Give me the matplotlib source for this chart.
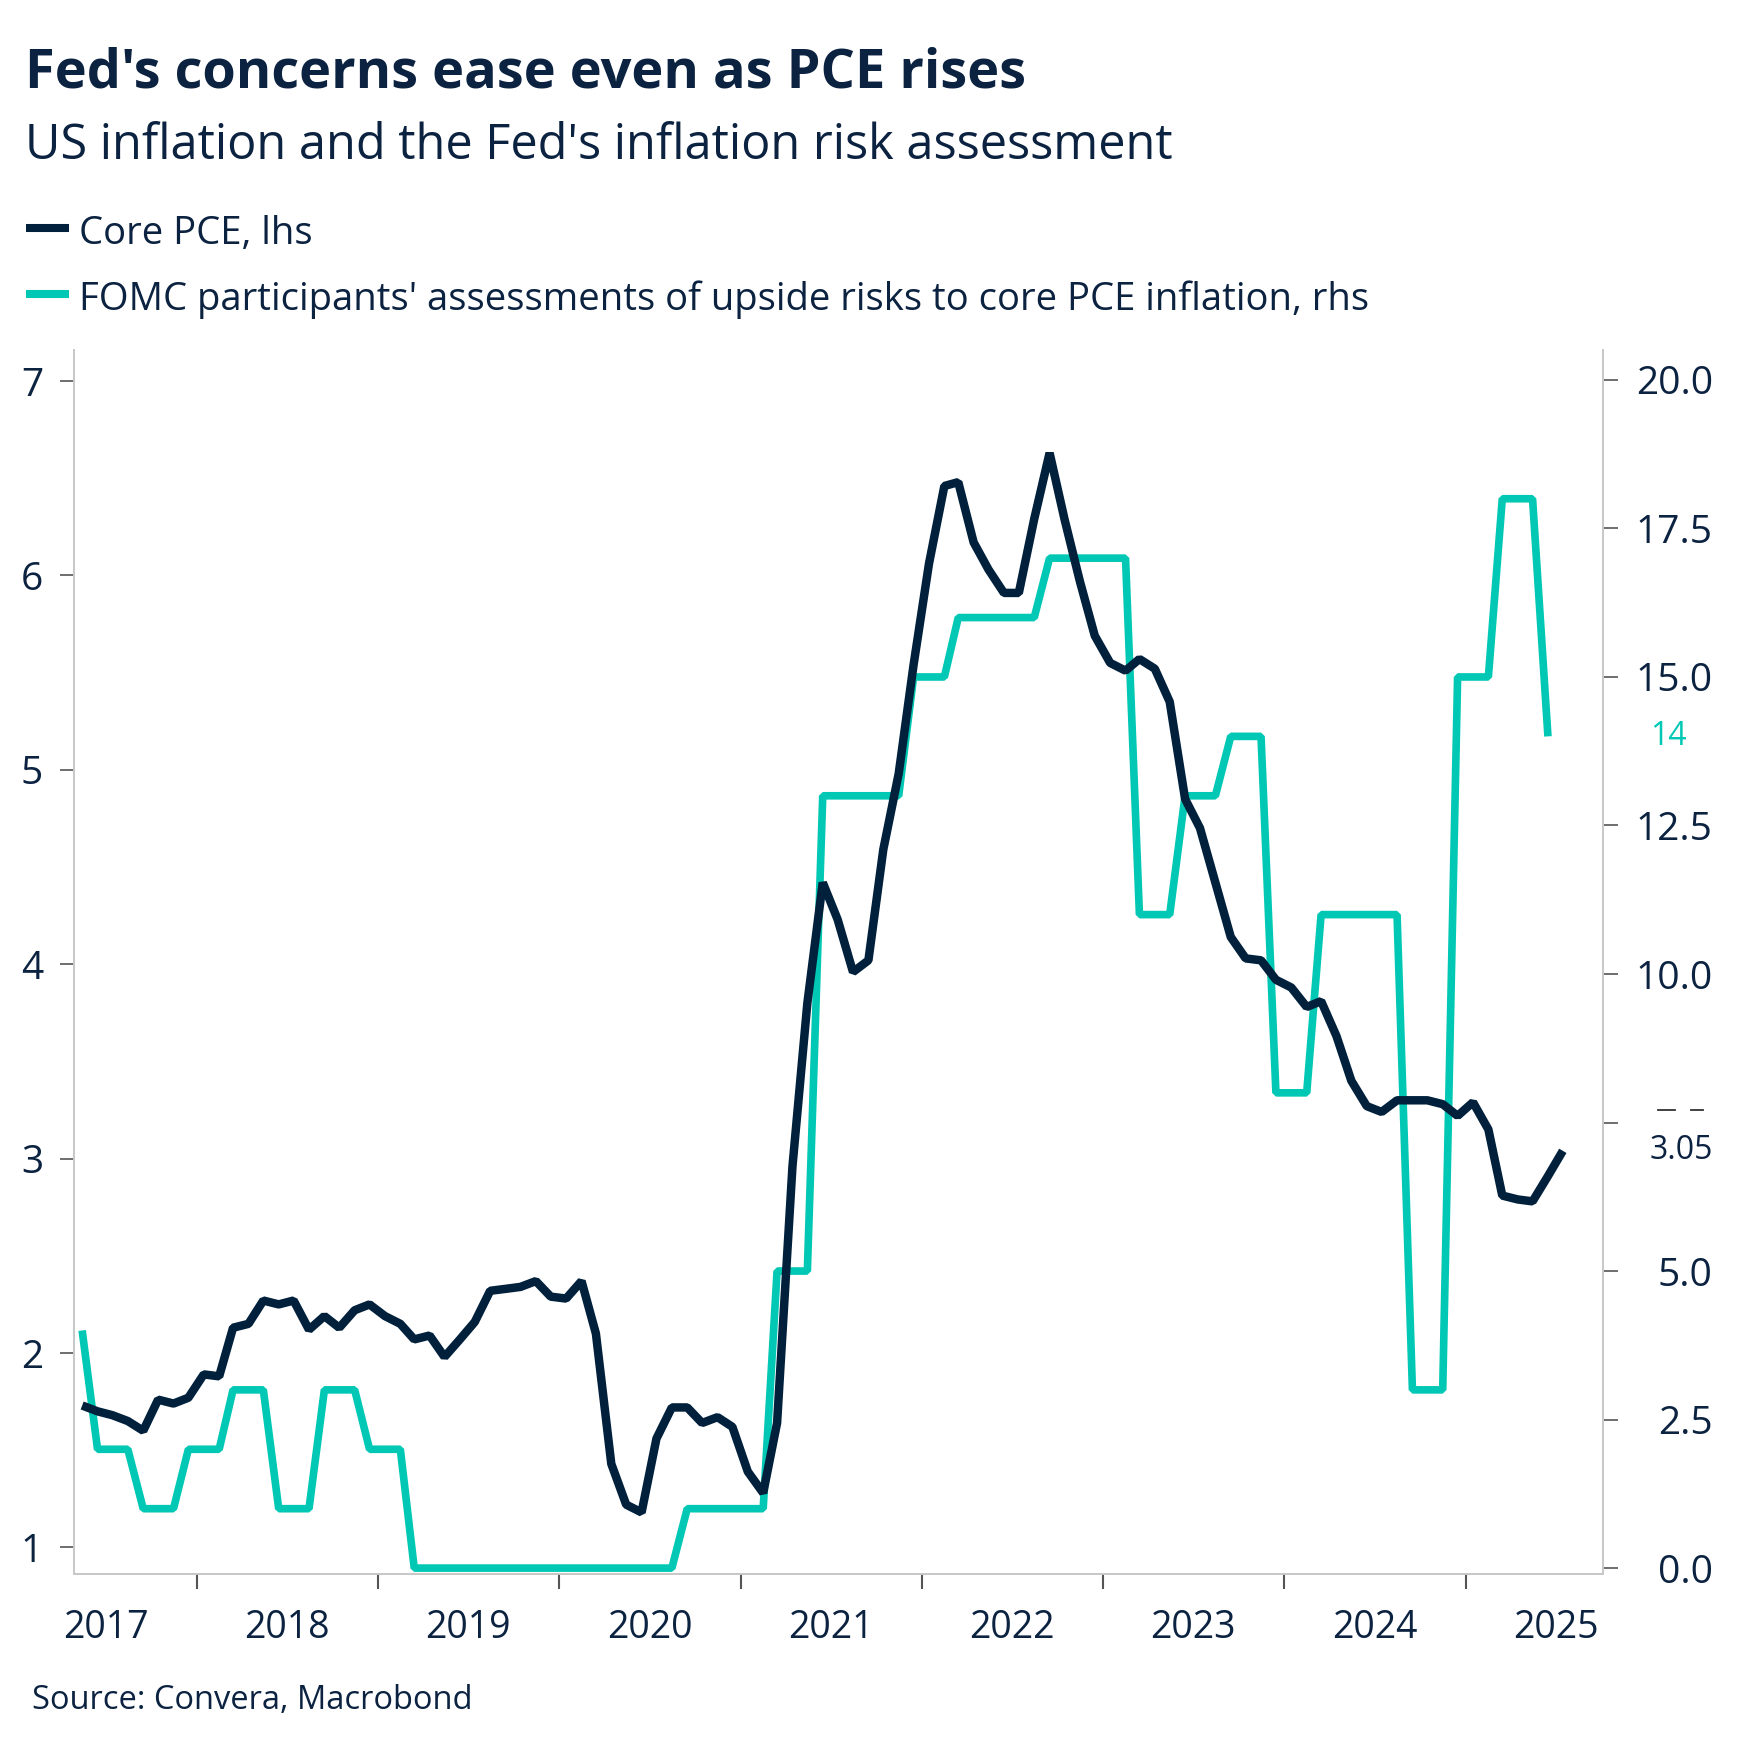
import numpy as np
import pandas as pd
import matplotlib
matplotlib.use("Agg")
import matplotlib.pyplot as plt
import matplotlib.dates as mdates
from matplotlib.transforms import blended_transform_factory
from datetime import datetime

plt.rcParams['font.family'] = ['Open Sans', 'DejaVu Sans']

NAVY = '#0b2240'
LINE_DARK = '#00203b'
TEAL = '#00c8b4'
SPINE = '#c8c8c8'
TICK = '#555555'

# monthly observations, May 2017 .. Jul 2025 (mid-month)
core_pce = [
    1.73, 1.70, 1.68, 1.65, 1.60, 1.76, 1.74, 1.77, 1.89, 1.88,
    2.13, 2.15, 2.27, 2.25, 2.27, 2.12, 2.19, 2.13, 2.22, 2.25,
    2.19, 2.15, 2.07, 2.09, 1.98, 2.07, 2.16, 2.32, 2.33, 2.34,
    2.37, 2.29, 2.28, 2.37, 2.10, 1.43, 1.22, 1.18, 1.56, 1.72,
    1.72, 1.64, 1.67, 1.62, 1.39, 1.28, 1.64, 2.96, 3.80, 4.42,
    4.23, 3.96, 4.02, 4.59, 4.98, 5.54, 6.06, 6.46, 6.48, 6.17,
    6.03, 5.91, 5.91, 6.29, 6.63, 6.29, 5.97, 5.69, 5.55, 5.51,
    5.57, 5.52, 5.35, 4.85, 4.70, 4.42, 4.14, 4.03, 4.02, 3.92,
    3.88, 3.78, 3.81, 3.63, 3.40, 3.27, 3.24, 3.30, 3.30, 3.30,
    3.28, 3.22, 3.29, 3.15, 2.81, 2.79, 2.78, 2.91, 3.04,
]

# FOMC participants seeing upside risks, May 2017 .. Jun 2025
fomc_upside = [
    4, 2, 2, 2, 1, 1, 1, 2, 2, 2,
    3, 3, 3, 1, 1, 1, 3, 3, 3, 2,
    2, 2, 0, 0, 0, 0, 0, 0, 0, 0,
    0, 0, 0, 0, 0, 0, 0, 0, 0, 0,
    1, 1, 1, 1, 1, 1, 5, 5, 5, 13,
    13, 13, 13, 13, 13, 15, 15, 15, 16, 16,
    16, 16, 16, 16, 17, 17, 17, 17, 17, 17,
    11, 11, 11, 13, 13, 13, 14, 14, 14, 8,
    8, 8, 11, 11, 11, 11, 11, 11, 3, 3,
    3, 15, 15, 15, 18, 18, 18, 14,
]

right_ticks = [0, 2.5, 5, 7.5, 10, 12.5, 15, 17.5, 20]
right_labels = ['0.0', '2.5', '5.0', '', '10.0', '12.5', '15.0', '17.5', '20.0']
left_ticks = [1, 2, 3, 4, 5, 6, 7]

dates_pce = pd.date_range('2017-05-01', periods=len(core_pce), freq='MS') + pd.Timedelta(days=14)
dates_fomc = dates_pce[:len(fomc_upside)]

fig = plt.figure(figsize=(17.51, 17.54), dpi=100)
ax1 = fig.add_axes([0.0421, 0.1026, 0.9155 - 0.0421, 0.8005 - 0.1026])
ax2 = ax1.twinx()
ax1.set_zorder(ax2.get_zorder() + 1)
ax1.patch.set_visible(False)

ax2.plot(dates_fomc, fomc_upside, color=TEAL, lw=5.5,
         solid_joinstyle='bevel', solid_capstyle='butt')
ax1.plot(dates_pce, core_pce, color=LINE_DARK, lw=6.1,
         solid_joinstyle='bevel', solid_capstyle='butt')

ax1.set_xlim(datetime(2017, 4, 28), datetime(2025, 10, 4))
ax1.set_ylim(0.863, 7.16)
ax2.set_ylim(-0.10, 20.505)

for ax in (ax1, ax2):
    ax.spines['top'].set_visible(False)
    for s in ('left', 'right', 'bottom'):
        ax.spines[s].set_color(SPINE)
        ax.spines[s].set_linewidth(1.4)

# x axis: ticks at year boundaries, labels mid-year
ax1.xaxis.set_major_locator(mdates.YearLocator(1, month=1, day=1))
ax1.xaxis.set_major_formatter(plt.NullFormatter())
ax1.xaxis.set_minor_locator(mdates.YearLocator(1, month=7, day=1))
ax1.xaxis.set_minor_formatter(mdates.DateFormatter('%Y'))
ax1.tick_params(axis='x', which='major', length=11, width=1.5, color=TICK)
ax1.tick_params(axis='x', which='minor', length=0, pad=25,
                labelsize=27, labelcolor=NAVY)

ax1.set_yticks(left_ticks)
ax1.tick_params(axis='y', length=10, width=1.2, color=TICK, pad=12,
                labelsize=28, labelcolor=NAVY)

ax2.set_yticks(right_ticks)
ax2.set_yticklabels(right_labels)
ax2.tick_params(axis='y', length=11, width=1.2, color=TICK, pad=68,
                labelsize=28, labelcolor=NAVY)
for lab in ax2.get_yticklabels():
    lab.set_horizontalalignment('right')

# last-value labels
tr2 = blended_transform_factory(ax2.transAxes, ax2.transData)
tr1 = blended_transform_factory(ax1.transAxes, ax1.transData)
ax2.text(1.0307, fomc_upside[-1], str(fomc_upside[-1]), transform=tr2,
         color=TEAL, fontsize=23, va='center', ha='left', clip_on=False)
ax1.text(1.0307, core_pce[-1], '%.2f' % 3.05, transform=tr1,
         color=NAVY, fontsize=23, va='center', ha='left', clip_on=False)
ax2.plot([1.036, 1.047], [7.71, 7.71], transform=tr2, color='#333333',
         lw=1.3, clip_on=False)
ax2.plot([1.0576, 1.0654], [7.71, 7.71], transform=tr2, color='#333333',
         lw=1.3, clip_on=False)

# titles, legend, source
fig.text(0.0143, 0.950, "Fed's concerns ease even as PCE rises",
         fontsize=39, fontweight='bold', color=NAVY, va='baseline')
fig.text(0.0143, 0.9095, "US inflation and the Fed's inflation risk assessment",
         fontsize=35, color=NAVY, va='baseline')

legend_items = [("Core PCE, lhs", LINE_DARK, 0.8700, 0.8609),
                ("FOMC participants' assessments of upside risks to core PCE inflation, rhs",
                 TEAL, 0.8324, 0.8233)]
for label, col, yl, yt in legend_items:
    fig.add_artist(plt.Line2D([0.0146, 0.0394], [yl, yl], color=col, lw=5.8,
                              solid_capstyle='butt'))
    fig.text(0.0451, yt, label, fontsize=27.5, color=NAVY, va='baseline')

fig.text(0.018, 0.0259, "Source: Convera, Macrobond", fontsize=23.5,
         color=NAVY, va='baseline')

fig.savefig('out.png', dpi=100)
